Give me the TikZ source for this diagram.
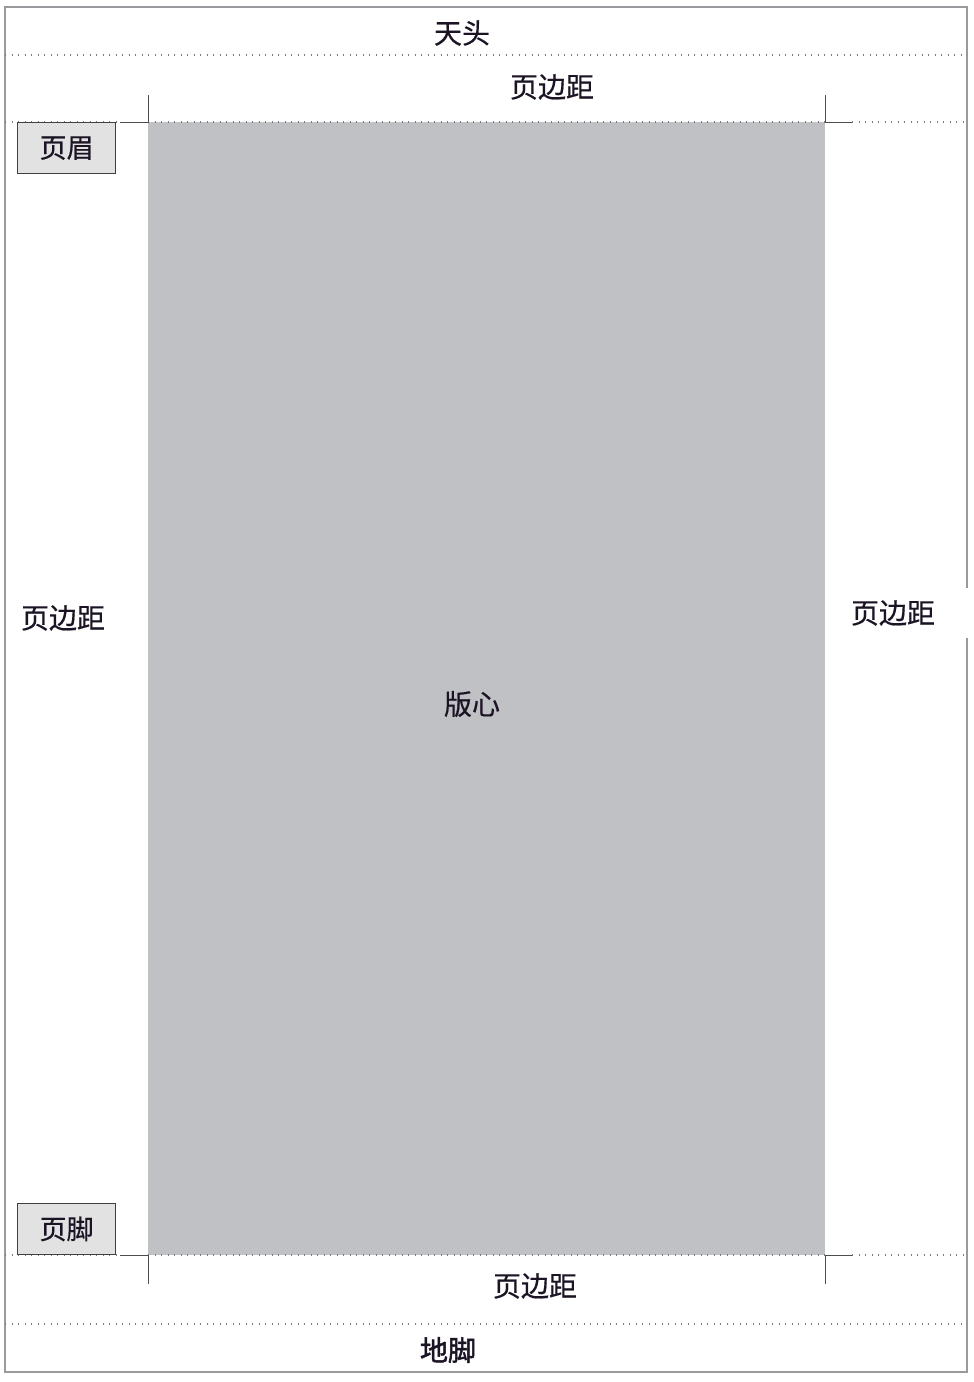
\documentclass[tikz,border=0pt]{standalone}
\usepackage{fontspec}
\newfontfamily\cjk[FakeBold=0.5]{Noto Sans CJK SC}
\newfontfamily\cjkb[FakeBold=1.8]{Noto Sans CJK SC}
\definecolor{core}{HTML}{C0C1C4}
\definecolor{boxfill}{HTML}{E2E2E3}
\definecolor{framec}{HTML}{9A9A9E}
\definecolor{txt}{HTML}{1C1424}
\definecolor{dotc}{HTML}{7A7A82}
\begin{document}
\begin{tikzpicture}[x=1pt,y=-1pt,
  lbl/.style={font=\cjk\fontsize{28}{30}\selectfont, text=txt, inner sep=2pt},
  dotline/.style={draw=dotc, line width=1.3pt, dash pattern=on 1.3pt off 5.2pt},
  cropmark/.style={draw=black!70, line width=0.9pt},
  hfbox/.style={draw=black!75, line width=1.2pt, fill=boxfill, minimum width=98pt, minimum height=51pt, inner sep=0pt, font=\cjk\fontsize{27}{29}\selectfont, text=txt}]
\useasboundingbox (0,0) rectangle (974,1382);
\fill[white] (0,0) rectangle (974,1382);
% outer page frame
\draw[framec, line width=1.3pt] (5,7) rectangle (967,1372);
% dotted guide lines
\draw[dotline] (5,55) -- (967,55);
\draw[dotline] (5,1324) -- (967,1324);
\draw[dotline] (5,122) -- (120,122);
\draw[dotline] (852,122) -- (967,122);
\draw[dotline] (5,1255) -- (120,1255);
\draw[dotline] (852,1255) -- (967,1255);
% type area
\fill[core] (148,122) rectangle (825,1255);
\draw[dotline] (148,122) -- (825,122);
\draw[dotline] (148,1255) -- (825,1255);
% crop marks
\draw[cropmark] (148,95) -- (148,122) -- (120,122);
\draw[cropmark] (825,95) -- (825,122) -- (852,122);
\draw[cropmark] (148,1284) -- (148,1255) -- (120,1255);
\draw[cropmark] (825,1284) -- (825,1255) -- (852,1255);
% gap in the frame behind the right label
\fill[white] (962,588) rectangle (972,638);
% header and footer boxes
\node[hfbox, anchor=north west] (header) at (17,122) {页眉};
\node[hfbox, anchor=south west] (footer) at (17,1255) {页脚};
% labels
\node[lbl] (top) at (462,33) {天头};
\node[lbl] (mtop) at (552,87) {页边距};
\node[lbl] (mleft) at (63,618) {页边距};
\node[lbl] (mright) at (893,613) {页边距};
\node[lbl] (core) at (472,704) {版心};
\node[lbl] (mbottom) at (535,1286) {页边距};
\node[lbl, font=\cjkb\fontsize{28}{30}\selectfont] (foot) at (448,1350) {地脚};
\end{tikzpicture}
\end{document}
